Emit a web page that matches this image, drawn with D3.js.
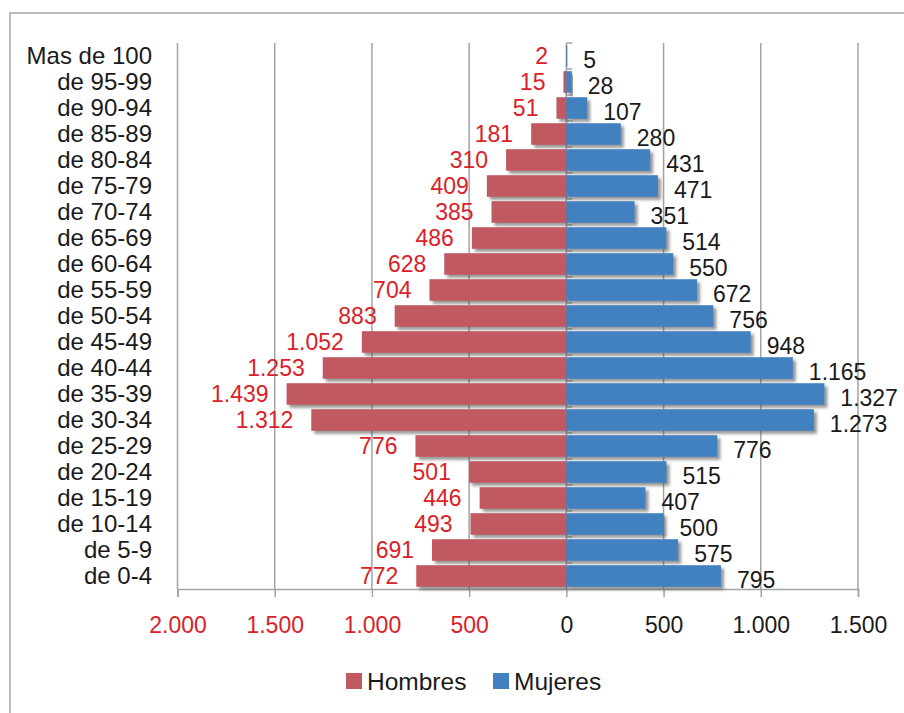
<!DOCTYPE html>
<html>
<head>
<meta charset="utf-8">
<script src="https://cdn.jsdelivr.net/npm/d3@7"></script>
<style>
  body { margin: 0; background: #fff; }
  text { font-family: "Liberation Sans", Arial, sans-serif; }
</style>
</head>
<body>
<div id="chart"></div>
<script>
var categories = ["Mas de 100", "de 95-99", "de 90-94", "de 85-89", "de 80-84", "de 75-79",
    "de 70-74", "de 65-69", "de 60-64", "de 55-59", "de 50-54", "de 45-49", "de 40-44",
    "de 35-39", "de 30-34", "de 25-29", "de 20-24", "de 15-19", "de 10-14", "de 5-9", "de 0-4"];
var hombres = [2, 15, 51, 181, 310, 409, 385, 486, 628, 704, 883, 1052, 1253, 1439, 1312, 776, 501, 446, 493, 691, 772];
var mujeres = [5, 28, 107, 280, 431, 471, 351, 514, 550, 672, 756, 948, 1165, 1327, 1273, 776, 515, 407, 500, 575, 795];
var xTicks = [-2000, -1500, -1000, -500, 0, 500, 1000, 1500];
var seriesNames = ["Hombres", "Mujeres"];

var svgWidth = 904, svgHeight = 713;
var red = "#C05A60", blue = "#4281C0";
var redText = "#DA2128", darkText = "#1a1a1a", gridColor = "#a3a3a3";

var loc = d3.formatLocale({decimal: ",", thousands: ".", grouping: [3], currency: ["", ""]});
var fmt = loc.format(",d");

var x = d3.scaleLinear().domain([-2000, 1500]).range([177.5, 858]);
var y = d3.scaleBand().domain(categories).range([43, 589]).paddingInner(0.17).paddingOuter(0.085);

var svg = d3.select("#chart").append("svg")
    .attr("width", svgWidth)
    .attr("height", svgHeight);

// drop shadow like the Excel bars
var defs = svg.append("defs");
var f = defs.append("filter").attr("id", "shadow")
    .attr("x", "-20%").attr("y", "-30%").attr("width", "140%").attr("height", "170%");
f.append("feDropShadow")
    .attr("dx", 3).attr("dy", 3).attr("stdDeviation", 1.8)
    .attr("flood-color", "#404040").attr("flood-opacity", 0.55);

// outer border
svg.append("rect")
    .attr("x", 10).attr("y", 13)
    .attr("width", 920).attr("height", 720)
    .attr("fill", "none").attr("stroke", "#a6a6a6").attr("stroke-width", 1.5);

// vertical gridlines
svg.append("g").selectAll("line")
    .data(xTicks)
    .enter().append("line")
    .attr("x1", function(d){ return x(d); })
    .attr("x2", function(d){ return x(d); })
    .attr("y1", 43).attr("y2", 589)
    .attr("stroke", gridColor).attr("stroke-width", 1.5);

// small ticks of the category axis at zero
var bounds = categories.map(function(c){ return y(c) - y.step() * y.paddingInner() / 2; });
svg.append("g").selectAll("line")
    .data(bounds)
    .enter().append("line")
    .attr("x1", x(0)).attr("x2", x(0) + 6)
    .attr("y1", function(d){ return d; })
    .attr("y2", function(d){ return d; })
    .attr("stroke", gridColor).attr("stroke-width", 1.5);

// bottom axis
var xAxis = d3.axisBottom(x)
    .tickValues(xTicks)
    .tickSize(8)
    .tickFormat(function(d){ return fmt(Math.abs(d)); });

var gx = svg.append("g")
    .attr("transform", "translate(0,589)")
    .call(xAxis);
gx.select(".domain").attr("stroke", gridColor).attr("stroke-width", 1.5);
gx.selectAll(".tick line").attr("stroke", gridColor).attr("stroke-width", 1.5);
gx.selectAll(".tick text")
    .attr("y", 36).attr("dy", "0.35em")
    .attr("font-size", 23)
    .attr("fill", function(d){ return d < 0 ? redText : darkText; });

// category labels
var yAxis = d3.axisLeft(y).tickSize(0).tickPadding(0);
var gy = svg.append("g")
    .attr("transform", "translate(152,0)")
    .call(yAxis);
gy.select(".domain").remove();
gy.selectAll(".tick text")
    .attr("font-size", 24)
    .attr("fill", darkText)
    .attr("dy", "0.35em");

// bars
var bars = svg.append("g");
bars.selectAll(".hombre")
    .data(hombres)
    .enter().append("rect")
    .attr("class", "hombre")
    .attr("x", function(d){ return x(-d); })
    .attr("y", function(d, i){ return y(categories[i]); })
    .attr("width", function(d){ return x(0) - x(-d); })
    .attr("height", y.bandwidth())
    .attr("fill", red)
    .attr("filter", "url(#shadow)");

bars.selectAll(".mujer")
    .data(mujeres)
    .enter().append("rect")
    .attr("class", "mujer")
    .attr("x", x(0))
    .attr("y", function(d, i){ return y(categories[i]); })
    .attr("width", function(d){ return x(d) - x(0); })
    .attr("height", y.bandwidth())
    .attr("fill", blue)
    .attr("filter", "url(#shadow)");

// value labels
svg.append("g").selectAll("text")
    .data(hombres)
    .enter().append("text")
    .attr("x", function(d){ return x(-d) - 18; })
    .attr("y", function(d, i){ return y(categories[i]) + y.bandwidth() / 2; })
    .attr("dy", "0.35em")
    .attr("text-anchor", "end")
    .attr("font-size", 23)
    .attr("fill", redText)
    .text(function(d){ return fmt(d); });

svg.append("g").selectAll("text")
    .data(mujeres)
    .enter().append("text")
    .attr("x", function(d){ return x(d) + 16; })
    .attr("y", function(d, i){ return y(categories[i]) + y.bandwidth() / 2 + 4; })
    .attr("dy", "0.35em")
    .attr("font-size", 23)
    .attr("fill", darkText)
    .text(function(d){ return fmt(d); });

// legend
var legendX = [346, 493];
var legend = svg.append("g");
seriesNames.forEach(function(name, i){
    legend.append("rect")
        .attr("x", legendX[i]).attr("y", 673)
        .attr("width", 16).attr("height", 16)
        .attr("fill", i == 0 ? red : blue);
    legend.append("text")
        .attr("x", legendX[i] + 21).attr("y", 681)
        .attr("dy", "0.35em")
        .attr("font-size", 24.5)
        .attr("fill", darkText)
        .text(name);
});
</script>
</body>
</html>
